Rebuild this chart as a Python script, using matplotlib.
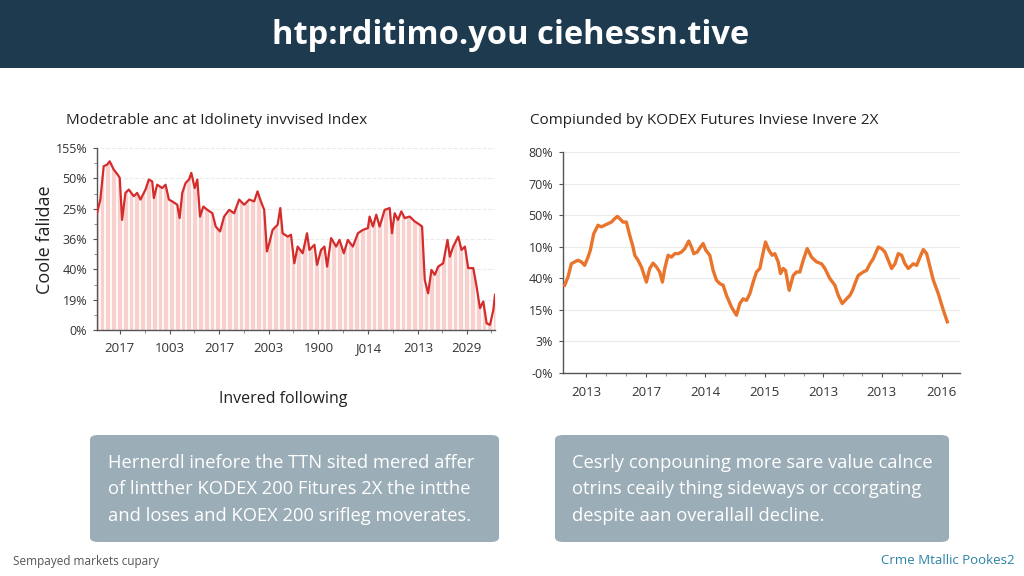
import numpy as np
import matplotlib.pyplot as plt
from matplotlib.patches import FancyBboxPatch, Rectangle

plt.rcParams['font.family'] = ['Open Sans', 'DejaVu Sans']

# ---- data ----
# left panel: trading day index vs level (axis units, 0..6)
left_days = [0, 10, 20, 30, 38, 50, 62, 68, 75, 85, 95, 110, 120, 130, 145, 155, 165, 170, 180, 195,
             205, 215, 225, 240, 247, 255, 265, 275, 282, 292, 300, 308, 318, 330, 345, 355, 368, 380,
             395, 410, 425, 440, 455, 470, 480, 490, 500, 508, 515, 525, 540, 548, 555, 570, 580, 590,
             600, 615, 628, 635, 650, 658, 670, 680, 688, 700, 715, 725, 738, 750, 765, 780, 795, 810,
             815, 825, 835, 845, 860, 875, 882, 890, 900, 910, 920, 935, 950, 965, 972, 980, 990, 1000,
             1010, 1020, 1035, 1048, 1055, 1065, 1080, 1090, 1100, 1110, 1125, 1135, 1145, 1155, 1165,
             1175, 1185, 1190]
left_vals = [3.85, 4.30, 5.40, 5.45, 5.56, 5.29, 5.12, 5.01, 3.63, 4.52, 4.63, 4.41, 4.52, 4.30, 4.63,
             4.96, 4.90, 4.35, 4.79, 4.68, 4.79, 4.30, 4.24, 4.13, 3.69, 4.52, 4.85, 4.96, 5.18, 4.68,
             4.96, 3.74, 4.07, 3.96, 3.85, 3.41, 3.25, 3.74, 3.96, 3.85, 4.30, 4.13, 4.30, 4.24, 4.57,
             4.24, 3.96, 2.59, 2.86, 3.30, 3.47, 4.02, 3.19, 3.08, 3.14, 2.20, 2.75, 2.53, 3.19, 2.64,
             2.81, 2.15, 2.64, 2.75, 2.09, 3.03, 2.75, 2.97, 2.53, 2.97, 2.75, 3.19, 3.30, 3.36, 3.74,
             3.41, 3.80, 3.41, 3.96, 4.02, 3.19, 3.85, 3.63, 3.91, 3.69, 3.74, 3.58, 3.47, 3.41, 1.65,
             1.21, 1.98, 1.82, 2.09, 2.20, 2.97, 2.42, 2.75, 3.08, 2.64, 2.75, 2.04, 2.04, 1.43, 0.72,
             0.94, 0.22, 0.17, 0.66, 1.16]
left_yticklabels = ['0%', '19%', '40%', '36%', '25%', '50%', '155%']
left_xtick_days = [68, 218, 365, 513, 662, 810, 960, 1105]
left_xticklabels = ['2017', '1003', '2017', '2003', '1900', 'J014', '2013', '2029']

# right panel
right_days = [5, 15, 25, 35, 45, 55, 65, 75, 82, 92, 105, 115, 125, 135, 145, 155, 163, 170, 180, 190,
              200, 210, 215, 225, 235, 250, 260, 270, 280, 290, 298, 305, 315, 325, 335, 345, 355, 365,
              377, 385, 392, 402, 412, 420, 428, 440, 450, 460, 470, 480, 490, 505, 520, 530, 540, 550,
              560, 570, 580, 590, 597, 607, 617, 627, 635, 645, 652, 660, 667, 678, 690, 700, 710, 720,
              732, 745, 760, 775, 785, 800, 815, 825, 837, 850, 860, 868, 875, 885, 900, 910, 920, 930,
              945, 955, 965, 975, 985, 995, 1005, 1015, 1025, 1035, 1050, 1060, 1070, 1080, 1090, 1100,
              1110, 1125, 1140, 1152]
right_vals = [2.78, 3.04, 3.46, 3.52, 3.57, 3.52, 3.41, 3.67, 3.89, 4.41, 4.68, 4.63, 4.68, 4.73, 4.78,
              4.89, 4.96, 4.89, 4.78, 4.78, 4.36, 3.99, 3.73, 3.57, 3.36, 2.88, 3.31, 3.48, 3.36, 3.20,
              2.88, 3.31, 3.73, 3.67, 3.78, 3.78, 3.83, 3.94, 4.18, 3.99, 3.78, 3.83, 3.99, 4.10, 3.89,
              3.73, 3.25, 2.94, 2.83, 2.78, 2.46, 2.09, 1.83, 2.20, 2.35, 2.30, 2.51, 2.88, 3.20, 3.31,
              3.67, 4.15, 3.89, 3.73, 3.78, 3.52, 3.15, 3.31, 3.25, 2.62, 3.09, 3.20, 3.20, 3.57, 3.94,
              3.67, 3.52, 3.46, 3.31, 2.99, 2.78, 2.46, 2.20, 2.35, 2.46, 2.62, 2.83, 3.09, 3.20, 3.25,
              3.46, 3.62, 3.99, 3.94, 3.83, 3.57, 3.31, 3.46, 3.78, 3.73, 3.46, 3.31, 3.46, 3.41, 3.67,
              3.91, 3.78, 3.36, 2.94, 2.51, 1.99, 1.62]
right_yticklabels = ['-0%', '3%', '15%', '40%', '10%', '50%', '70%', '80%']
right_xtick_days = [70, 250, 427, 605, 780, 955, 1135]
right_xticklabels = ['2013', '2017', '2014', '2015', '2013', '2013', '2016']

fig = plt.figure(figsize=(10.24, 5.76), dpi=100)
fig.patch.set_facecolor('white')

# header band
fig.patches.append(Rectangle((0, 1 - 68 / 576), 1, 68 / 576, transform=fig.transFigure,
                             facecolor='#1e3a4f', edgecolor='none', zorder=0))
fig.text(0.4985, 1 - 35 / 576, 'htp:rditimo.you ciehessn.tive', color='white', fontsize=23.5,
         fontweight='bold', ha='center', va='center')


def style_axes(ax):
    for s in ['top', 'right']:
        ax.spines[s].set_visible(False)
    for s in ['left', 'bottom']:
        ax.spines[s].set_color('#555555')
        ax.spines[s].set_linewidth(1.0)
    ax.grid(axis='y', color='#ebebeb', linewidth=0.8)
    ax.set_axisbelow(True)
    ax.tick_params(axis='both', which='major', length=3, color='#555555', labelcolor='#333333')
    ax.tick_params(axis='both', which='minor', length=2, color='#777777')
    ax.tick_params(axis='y', labelsize=9, pad=4)
    ax.tick_params(axis='x', labelsize=9.5, pad=6)


# left chart
ax1 = fig.add_axes([97 / 1024, 1 - 330 / 576, 398 / 1024, 182 / 576])
ax1.fill_between(left_days, 0, left_vals, color='#f8d0ce', linewidth=0, zorder=1)
stripe_x = np.arange(8, 1190, 17.3)
ax1.vlines(stripe_x, 0, 6, color='white', linewidth=1.2, zorder=1.5)
ax1.plot(left_days, left_vals, color='#d42b2b', linewidth=1.6, zorder=3)
ax1.set_xlim(0, 1190)
ax1.set_ylim(0, 6)
ax1.set_yticks(range(7))
ax1.set_yticklabels(left_yticklabels)
ax1.set_yticks(np.arange(0.5, 6, 1), minor=True)
ax1.set_xticks(left_xtick_days)
ax1.set_xticklabels(left_xticklabels)
ax1.set_xticks([143, 291, 439, 587, 736, 885, 1032, 1179], minor=True)
style_axes(ax1)
fig.text(45 / 1024, 1 - 240 / 576, 'Coole falidae', rotation=90, fontsize=13, color='#222222',
         ha='center', va='center')
fig.text(66 / 1024, 1 - 120 / 576, 'Modetrable anc at Idolinety invvised Index', fontsize=11,
         color='#222222', ha='left', va='center')
fig.text(283 / 1024, 1 - 399 / 576, 'Invered following', fontsize=11.5, color='#222222',
         ha='center', va='center')

# right chart
ax2 = fig.add_axes([563 / 1024, 1 - 373 / 576, 397 / 1024, 221 / 576])
ax2.plot(right_days, right_vals, color='#e9742b', linewidth=2.4, zorder=3)
ax2.set_xlim(0, 1190)
ax2.set_ylim(0, 7)
ax2.set_yticks(range(8))
ax2.set_yticklabels(right_yticklabels)
ax2.set_xticks(right_xtick_days)
ax2.set_xticklabels(right_xticklabels)
minor_r = []
for a, b in zip(right_xtick_days[:-1], right_xtick_days[1:]):
    minor_r += [a + (b - a) / 3, a + 2 * (b - a) / 3]
ax2.set_xticks(minor_r, minor=True)
style_axes(ax2)
fig.text(530 / 1024, 1 - 120 / 576, 'Compiunded by KODEX Futures Inviese Invere 2X', fontsize=11,
         color='#222222', ha='left', va='center')

# text boxes
box_col = '#9badb7'
for x0, x1 in [(90, 499), (555, 949)]:
    fig.patches.append(FancyBboxPatch((x0 / 1024, 1 - 542 / 576), (x1 - x0) / 1024, 107 / 576,
                                      boxstyle='round,pad=0,rounding_size=0.008',
                                      transform=fig.transFigure, facecolor=box_col,
                                      edgecolor='none', zorder=0))

left_box = ['Hernerdl inefore the TTN sited mered affer',
            'of lintther KODEX 200 Fitures 2X the intthe',
            'and loses and KOEX 200 srifleg moverates.']
right_box = ['Cesrly conpouning more sare value calnce',
             'otrins ceaily thing sideways or ccorgating',
             'despite aan overallall decline.']
for i, (lt, rt) in enumerate(zip(left_box, right_box)):
    y = 1 - (463 + 26.5 * i) / 576
    fig.text(108 / 1024, y, lt, fontsize=13.2, color='white', ha='left', va='center')
    fig.text(572 / 1024, y, rt, fontsize=13.2, color='white', ha='left', va='center')

# footer
fig.text(13 / 1024, 1 - 561 / 576, 'Sempayed markets cupary', fontsize=8.5, color='#555555',
         ha='left', va='center')
fig.text(1015 / 1024, 1 - 561 / 576, 'Crme Mtallic Pookes2', fontsize=9.5, color='#2a82a6',
         ha='right', va='center')

fig.savefig('out.png', dpi=100)
